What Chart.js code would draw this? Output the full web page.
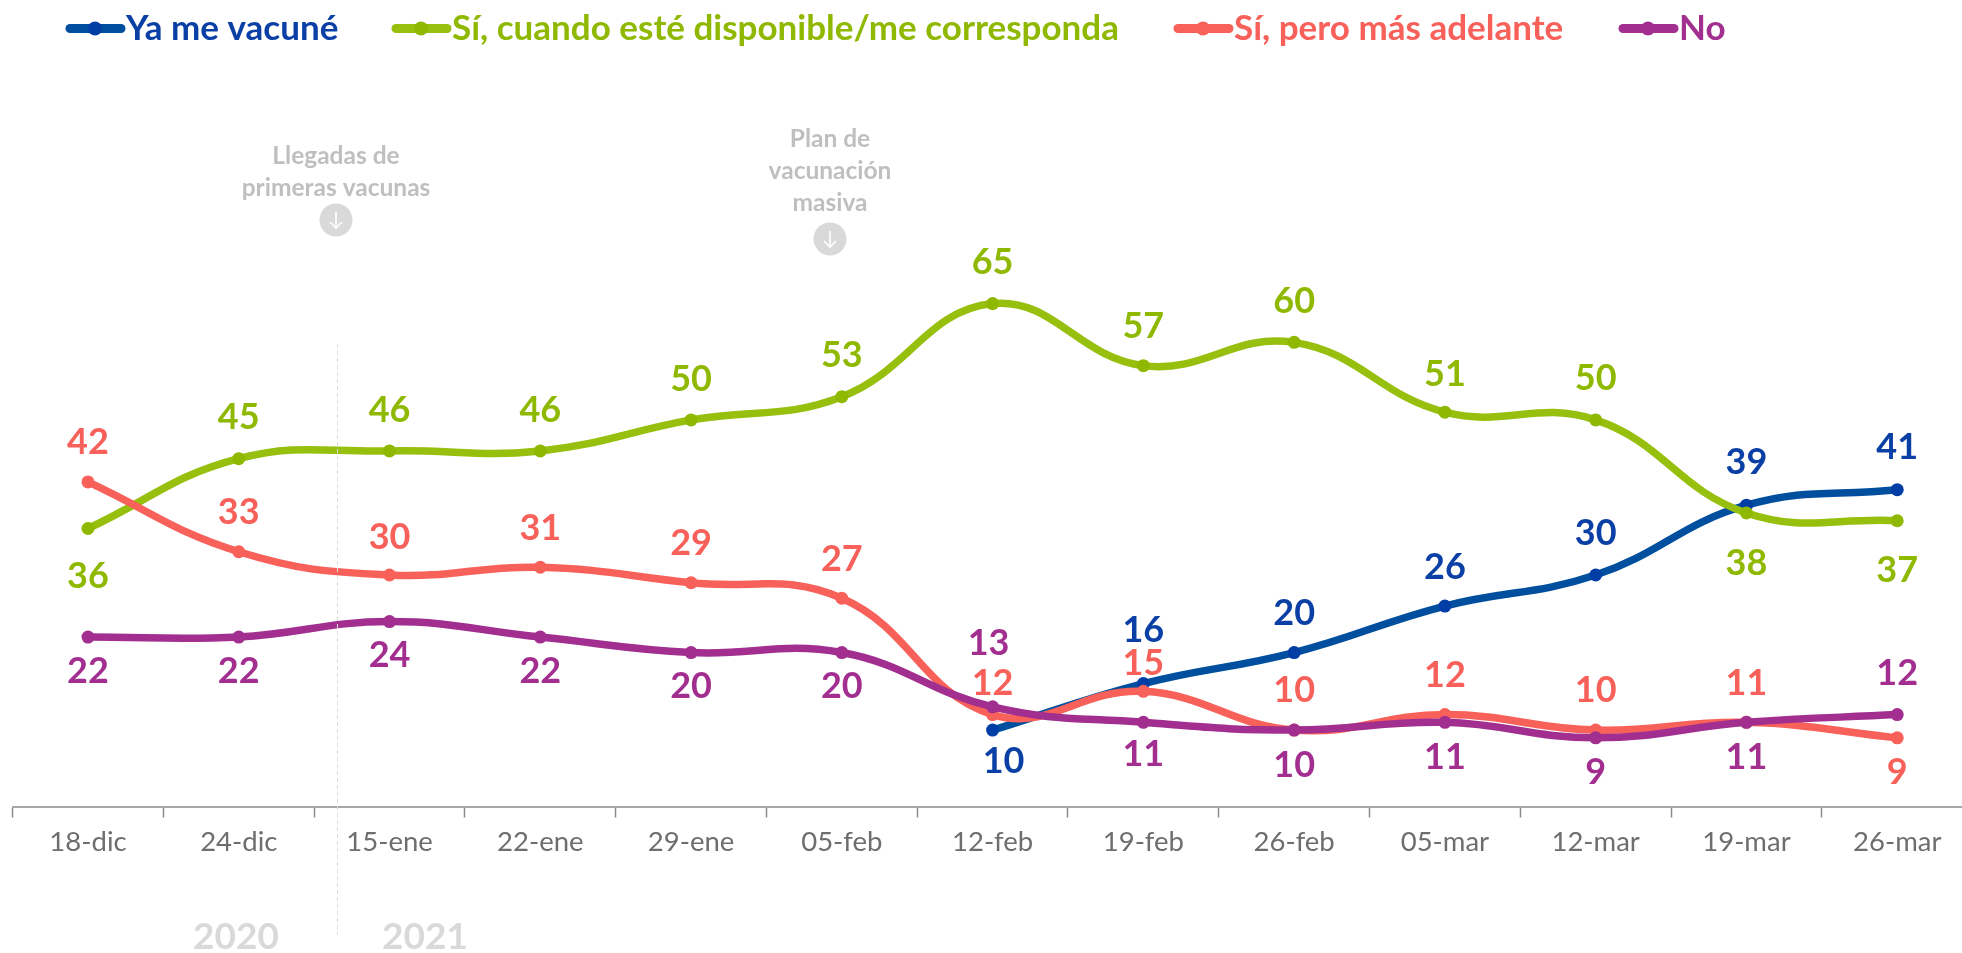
<!DOCTYPE html>
<html>
<head>
<meta charset="utf-8">
<script src="https://cdn.jsdelivr.net/npm/chart.js@4"></script>
<style>
  html, body { margin: 0; padding: 0; background: #fff; overflow: hidden; width: 1962px; height: 953px; }
  #wrap { width: 1962px; height: 953px; overflow: hidden; }
  canvas { display: block; }
</style>
</head>
<body>
<div id="wrap"><canvas id="chart" width="1985" height="953"></canvas></div>
<script>
// Chart data
const fechas = ['18-dic', '24-dic', '15-ene', '22-ene', '29-ene', '05-feb', '12-feb', '19-feb', '26-feb', '05-mar', '12-mar', '19-mar', '26-mar'];
const yaVacune = [null, null, null, null, null, null, 10, 16, 20, 26, 30, 39, 41];
const siDisponible = [36, 45, 46, 46, 50, 53, 65, 57, 60, 51, 50, 38, 37];
const siMasAdelante = [42, 33, 30, 31, 29, 27, 12, 15, 10, 12, 10, 11, 9];
const noVacuna = [22, 22, 24, 22, 20, 20, 13, 11, 10, 11, 9, 11, 12];

// Vertical shift of each value label from its point, px
const yaVacuneLabelY = [0, 0, 0, 0, 0, 0, 31, -53, -39, -39, -42, -43, -42];
const siDisponibleLabelY = [48, -41, -41, -41, -41, -41, -41, -39, -41, -38, -42, 50, 50];
const siMasAdelanteLabelY = [-40, -39, -38, -39, -39, -39, -31, -28, -40, -39, -40, -39, 35];
const noVacunaLabelY = [34, 34, 34, 34, 34, 34, -63, 32, 35, 35, 35, 35, -41];

const FONT = 'Lato, "Open Sans", sans-serif';

const leyenda = [
    { text: 'Ya me vacuné', line: '#004f9f', dot: '#003da5', color: '#0a3fa5', x: 66 },
    { text: 'Sí, cuando esté disponible/me corresponda', line: '#97bf0d', dot: '#8fb800', color: '#8fb800', x: 392 },
    { text: 'Sí, pero más adelante', line: '#f8605a', dot: '#f8605a', color: '#f8605a', x: 1174 },
    { text: 'No', line: '#a22f8f', dot: '#a22f8f', color: '#a22f8f', x: 1619 }
];

function makeSeries(label, data, labelY, item, order, labelX) {
    return {
        label, data, labelY, labelX: labelX || {},
        labelColor: item.color,
        order,
        borderColor: item.line,
        backgroundColor: item.dot,
        pointBackgroundColor: item.dot,
        pointBorderColor: item.dot,
        borderWidth: 7.5,
        pointRadius: 6.5,
        pointBorderWidth: 0,
        tension: 0.42,
        spanGaps: false
    };
}

// Legend at the top, line + dot + text
const legendPlugin = {
    id: 'legendRow',
    afterDraw(chart) {
        const ctx = chart.ctx;
        ctx.save();
        ctx.font = 'bold 35px ' + FONT;
        ctx.textBaseline = 'middle';
        ctx.textAlign = 'left';
        leyenda.forEach(item => {
            ctx.strokeStyle = item.line;
            ctx.lineWidth = 9;
            ctx.lineCap = 'round';
            ctx.beginPath();
            ctx.moveTo(item.x + 4, 28.5);
            ctx.lineTo(item.x + 55, 28.5);
            ctx.stroke();
            ctx.fillStyle = item.dot;
            ctx.beginPath();
            ctx.arc(item.x + 29, 28.5, 7, 0, Math.PI * 2);
            ctx.fill();
            ctx.fillStyle = item.color;
            ctx.fillText(item.text, item.x + 60, 29);
        });
        ctx.restore();
    }
};

// Value labels next to each point
const valueLabelPlugin = {
    id: 'valueLabels',
    afterDatasetsDraw(chart) {
        const ctx = chart.ctx;
        ctx.save();
        ctx.font = 'bold 36px ' + FONT;
        ctx.textAlign = 'center';
        ctx.textBaseline = 'middle';
        chart.data.datasets.forEach((ds, i) => {
            const meta = chart.getDatasetMeta(i);
            ctx.fillStyle = ds.labelColor;
            ds.data.forEach((v, j) => {
                if (v === null) return;
                const pt = meta.data[j];
                ctx.fillText(v, pt.x + (ds.labelX[j] || 0), pt.y + ds.labelY[j]);
            });
        });
        ctx.restore();
    }
};

// Grey notes, the arrow circles, the year split
const notesPlugin = {
    id: 'notes',
    afterDraw(chart) {
        const ctx = chart.ctx;
        ctx.save();
        ctx.textAlign = 'center';
        ctx.textBaseline = 'middle';

        ctx.font = 'bold 24.5px ' + FONT;
        ctx.fillStyle = '#bfbfbf';
        ctx.fillText('Llegadas de', 336, 156);
        ctx.fillText('primeras vacunas', 336, 188);
        ctx.fillText('Plan de', 830, 139);
        ctx.fillText('vacunación', 830, 171);
        ctx.fillText('masiva', 830, 203);

        [[336, 220], [830, 239]].forEach(([x, y]) => {
            ctx.fillStyle = '#d9d9d9';
            ctx.beginPath();
            ctx.arc(x, y, 16.5, 0, Math.PI * 2);
            ctx.fill();
            ctx.strokeStyle = '#fff';
            ctx.lineWidth = 1.6;
            ctx.beginPath();
            ctx.moveTo(x, y - 8);
            ctx.lineTo(x, y + 8);
            ctx.moveTo(x - 6, y + 2);
            ctx.lineTo(x, y + 8);
            ctx.lineTo(x + 6, y + 2);
            ctx.stroke();
        });

        ctx.strokeStyle = '#dcdcdc';
        ctx.lineWidth = 1;
        ctx.setLineDash([4, 3]);
        ctx.beginPath();
        ctx.moveTo(337.5, 344);
        ctx.lineTo(337.5, 935);
        ctx.stroke();
        ctx.setLineDash([]);

        ctx.font = 'bold 37px ' + FONT;
        ctx.fillStyle = '#d9d9d9';
        ctx.fillText('2020', 236, 937);
        ctx.fillText('2021', 425, 937);
        ctx.restore();
    }
};

new Chart(document.getElementById('chart'), {
    type: 'line',
    data: {
        labels: fechas,
        datasets: [
            makeSeries('Ya me vacuné', yaVacune, yaVacuneLabelY, leyenda[0], 3, { 6: 11 }),
            makeSeries('Sí, cuando esté disponible/me corresponda', siDisponible, siDisponibleLabelY, leyenda[1], 2),
            makeSeries('Sí, pero más adelante', siMasAdelante, siMasAdelanteLabelY, leyenda[2], 1),
            makeSeries('No', noVacuna, noVacunaLabelY, leyenda[3], 0, { 6: -4 })
        ]
    },
    options: {
        responsive: false,
        animation: false,
        layout: { padding: { left: 12.6, right: 12.4, top: 31, bottom: 0 } },
        plugins: {
            legend: { display: false },
            tooltip: { enabled: false }
        },
        scales: {
            x: {
                offset: true,
                afterFit(scale) { scale.height = 146.5; },
                border: { color: '#a6a6a6', width: 2 },
                grid: { offset: true, drawOnChartArea: false, drawTicks: true, tickLength: 11, color: '#8c8c8c', tickWidth: 1.5 },
                ticks: {
                    color: '#6e6e6e',
                    font: { family: FONT, size: 27.5 },
                    padding: 8,
                    maxRotation: 0,
                    autoSkip: false
                }
            },
            y: {
                display: false,
                min: 0.15,
                max: 100.15
            }
        }
    },
    plugins: [legendPlugin, valueLabelPlugin, notesPlugin]
});
</script>
</body>
</html>
